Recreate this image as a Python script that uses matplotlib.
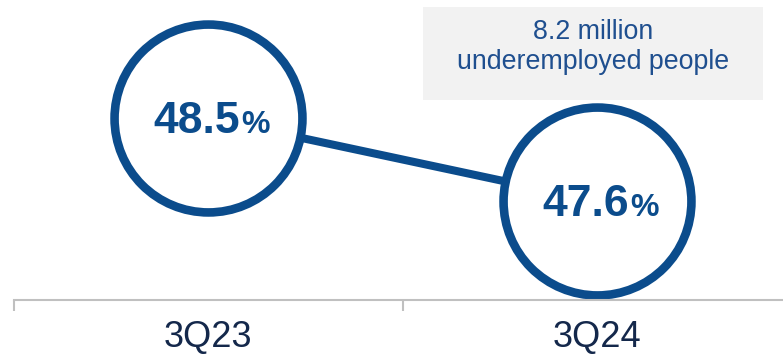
import matplotlib.pyplot as plt
from matplotlib.patches import Rectangle

plt.rcParams['font.family'] = ['Liberation Sans', 'DejaVu Sans']

# underemployment rate, same quarter each year
trimestres = ['3Q23', '3Q24']
tasa = [48.5, 47.6]
nota = '8.2 million\nunderemployed people'

azul = '#0b4c8c'
azul_texto = '#1f4f8f'
gris = '#c0c0c0'

fig = plt.figure(figsize=(7.83, 3.56), dpi=100)
# bottom spine of this axes is the baseline under the circles
ax = fig.add_axes([13.5 / 783, 56 / 356, 1 - 13.5 / 783, 300 / 356])
x = list(range(len(trimestres)))

ax.set_xlim(-0.5, 1.478)
ax.set_ylim(46.526, 49.78)

# connecting line behind the circles
ax.plot(x, tasa, color=azul, lw=5.8, zorder=1, solid_capstyle='butt')
ax.scatter(x, tasa, s=18300, facecolor='white', edgecolor=azul,
           linewidth=6.2, zorder=2, clip_on=False)

for xi, v in zip(x, tasa):
    ax.annotate(f'{v:.1f}', (xi, v), xytext=(23, -11), textcoords='offset points',
                ha='right', va='baseline', fontsize=32, fontweight='bold',
                color=azul, zorder=3)
    ax.annotate('%', (xi, v), xytext=(24, -11), textcoords='offset points',
                ha='left', va='baseline', fontsize=23, fontweight='bold',
                color=azul, zorder=3)

for s in ['top', 'right', 'left']:
    ax.spines[s].set_visible(False)
ax.spines['bottom'].set_color(gris)
ax.spines['bottom'].set_linewidth(1.5)
ax.set_yticks([])

ax.set_xticks(x)
ax.set_xticklabels(trimestres, fontsize=26, color='#14284b')
ax.tick_params(axis='x', which='major', length=0, pad=14.5)
ax.set_xticks([-0.5, 0.5], minor=True)
ax.tick_params(axis='x', which='minor', length=8, width=1.5, color=gris)

# note box, top right
fig.patches.append(Rectangle((423 / 783, 1 - 100 / 356), 340 / 783, 93 / 356,
                             transform=fig.transFigure, facecolor='#f2f2f2',
                             edgecolor='none', zorder=0))
fig.text(593 / 783, 1 - 47 / 356, nota, ha='center', va='center', fontsize=19.3,
         color=azul_texto, linespacing=1.2)

fig.savefig('out.png', dpi=100)
